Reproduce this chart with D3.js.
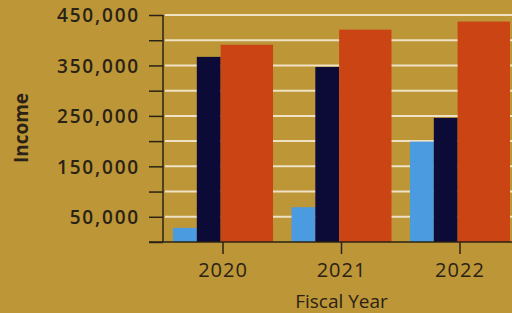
<!DOCTYPE html>
<html>
<head>
<meta charset="utf-8">
<script src="https://cdn.jsdelivr.net/npm/d3@7"></script>
<style>
  html, body { margin: 0; padding: 0; background: #bd9638; }
  text { font-family: "Open Sans", "DejaVu Sans", sans-serif; fill: #2a2214; }
</style>
</head>
<body>
<div id="chart"></div>
<script>
// chart data
const years = ["2020", "2021", "2022"];
const seriesNames = ["Light", "Navy", "Orange"];
const lightValues = [28000, 69000, 199000];
const navyValues = [367000, 347000, 246000];
const orangeValues = [391000, 421000, 437000];
const yTicks = [50000, 150000, 250000, 350000, 450000];

const width = 512, height = 313;
const margin = { left: 163, right: 0, top: 15, bottom: 71 };
const innerW = width - margin.left - margin.right;
const innerH = height - margin.top - margin.bottom;

const svg = d3.select("#chart").append("svg")
  .attr("width", width).attr("height", height);

svg.append("rect").attr("width", width).attr("height", height).attr("fill", "#bd9638");

const ChartArea = svg.append("g")
  .attr("transform", `translate(${margin.left},${margin.top})`);

// scales
const x = d3.scaleBand().domain(years).range([0, 357]).paddingInner(0.156).paddingOuter(0.0844);
const y = d3.scaleLinear().domain([0, 450000]).range([innerH, 0]);

// bar widths inside a group: light, navy, orange
const weights = [1, 1, 2.2];
const totalW = d3.sum(weights);
const offsets = weights.map((w, i) => d3.sum(weights.slice(0, i)) / totalW);

// gridlines every 50k
const gridVals = d3.range(50000, 450001, 50000);
ChartArea.selectAll(".grid")
  .data(gridVals)
  .join("line")
  .attr("class", "grid")
  .attr("x1", 2).attr("x2", innerW)
  .attr("y1", d => y(d)).attr("y2", d => y(d))
  .attr("stroke", "#efe2c4")
  .attr("stroke-width", 2);

// bars
const colors = ["#4b9be0", "#0c0b38", "#cb4514"];
const allSeries = [lightValues, navyValues, orangeValues];
const barData = [];
years.forEach((yr, i) => {
  allSeries.forEach((vals, s) => {
    barData.push({ year: yr, s: s, value: vals[i] });
  });
});

ChartArea.selectAll(".bar")
  .data(barData)
  .join("rect")
  .attr("class", "bar")
  .attr("x", d => x(d.year) + offsets[d.s] * x.bandwidth())
  .attr("width", d => weights[d.s] / totalW * x.bandwidth())
  .attr("y", d => y(d.value))
  .attr("height", d => innerH - y(d.value))
  .attr("fill", d => colors[d.s]);

// y axis: major labeled ticks + minor ticks
const AxisYLeft = ChartArea.append("g");
AxisYLeft.call(d3.axisLeft(y).tickValues(d3.range(0, 450001, 50000))
  .tickSize(14).tickFormat(d => yTicks.includes(d) ? d3.format(",")(d) : ""))
  .call(g => g.select(".domain").attr("d", `M0,0V${innerH}`));
AxisYLeft.selectAll("line, path").attr("stroke", "#2a2214").attr("stroke-width", 1.5);
AxisYLeft.selectAll("text")
  .attr("x", -23)
  .attr("dy", "0.36em")
  .style("font-size", "19px")
  .style("font-weight", "600")
  .style("letter-spacing", "1.8px");

// x axis
const AxisX = ChartArea.append("g").attr("transform", `translate(0,${innerH})`);
AxisX.call(d3.axisBottom(x).tickSize(12).tickPadding(9))
  .call(g => g.select(".domain").attr("d", `M-14,0H${innerW}`));
AxisX.selectAll("line, path").attr("stroke", "#2a2214").attr("stroke-width", 1.5);
AxisX.selectAll("text")
  .style("font-size", "20px")
  .style("letter-spacing", "1px");

// axis labels
ChartArea.append("text")
  .attr("transform", `translate(${x("2021") + x.bandwidth() / 2},${innerH + 66})`)
  .attr("text-anchor", "middle")
  .style("font-size", "19px")
  .text("Fiscal Year");

ChartArea.append("text")
  .attr("transform", `translate(${-163 + 28},${113}) rotate(-90)`)
  .attr("text-anchor", "middle")
  .style("font-size", "19px")
  .style("font-weight", "700")
  .text("Income");
</script>
</body>
</html>
